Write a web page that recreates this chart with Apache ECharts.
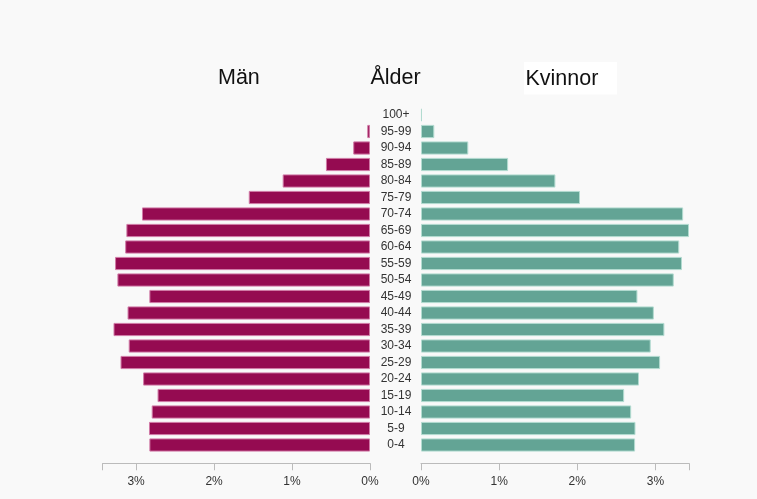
<!DOCTYPE html>
<html>
<head>
<meta charset="utf-8">
<script src="https://cdn.jsdelivr.net/npm/echarts@6/dist/echarts.min.js"></script>
<style>
html,body{margin:0;padding:0;background:#f9f9f9;}
#chart{width:757px;height:499px;}
</style>
</head>
<body>
<div id="chart"></div>
<script>
// bottom-to-top order (ECharts category axis starts at the bottom)
var ageGroups = ['0-4','5-9','10-14','15-19','20-24','25-29','30-34','35-39','40-44','45-49','50-54','55-59','60-64','65-69','70-74','75-79','80-84','85-89','90-94','95-99','100+'];
var men   = [2.83,2.835,2.80,2.725,2.91,3.20,3.095,3.29,3.11,2.83,3.24,3.27,3.14,3.125,2.925,1.555,1.12,0.565,0.215,0.035,0];
var women = [2.74,2.745,2.69,2.60,2.79,3.06,2.94,3.115,2.98,2.77,3.235,3.34,3.305,3.43,3.355,2.035,1.72,1.115,0.605,0.17,0.012];
var axisTicks = [0,1,2,3];
var axisMax = 3.43;

var FONT = 'Liberation Sans, Arial, sans-serif';
function toItems(arr) {
  return arr.map(function (v) {
    return v === 0 ? {value: v, itemStyle: {borderWidth: 0}} : v;
  });
}
var chart = echarts.init(document.getElementById('chart'));
var axisStyle = {
  type: 'value', min: 0, max: axisMax, offset: 10,
  splitLine: {show: false},
  axisLine: {show: true, lineStyle: {color: '#bbb', width: 1}},
  axisTick: {show: true, length: 7, lineStyle: {color: '#bbb'}, customValues: axisTicks.concat([axisMax])},
  axisLabel: {color: '#333', fontSize: 12, fontFamily: FONT, margin: 12,
              customValues: axisTicks, formatter: function(v){return v + '%';}}
};
var titleStyle = {fontSize: 21.5, fontWeight: 'normal', color: '#111', fontFamily: FONT};
chart.setOption({
  backgroundColor: '#f9f9f9',
  animation: false,
  title: [
    {text: 'Män', left: 218, top: 67.5, padding: 0, textStyle: titleStyle},
    {text: 'Ålder', left: 370.5, top: 67.5, padding: 0, textStyle: titleStyle},
    {text: 'Kvinnor', left: 524, top: 62, padding: [5.8, 18.6, 4.7, 1.5], backgroundColor: '#ffffff', textStyle: titleStyle}
  ],
  grid: [
    {left: 102.6, right: 387, top: 106.75, bottom: 45.75, containLabel: false},
    {left: 421, right: 68, top: 106.75, bottom: 45.75, containLabel: false}
  ],
  xAxis: [
    Object.assign({gridIndex: 0, inverse: true}, axisStyle),
    Object.assign({gridIndex: 1}, axisStyle)
  ],
  yAxis: [
    {gridIndex: 0, type: 'category', data: ageGroups, axisLine: {show: false}, axisTick: {show: false}, axisLabel: {show: false}},
    {gridIndex: 1, type: 'category', data: ageGroups, position: 'left', axisLine: {show: false}, axisTick: {show: false},
     axisLabel: {show: true, align: 'center', margin: 25, color: '#333', fontSize: 12, fontFamily: FONT, interval: 0}}
  ],
  series: [
    {name: 'Män', type: 'bar', xAxisIndex: 0, yAxisIndex: 0, data: toItems(men), barCategoryGap: '20%',
     itemStyle: {color: '#950b51', borderColor: '#d07aa6', borderWidth: 1}},
    {name: 'Kvinnor', type: 'bar', xAxisIndex: 1, yAxisIndex: 1, data: toItems(women), barCategoryGap: '20%',
     itemStyle: {color: '#63a495', borderColor: '#b2dbd0', borderWidth: 1}}
  ]
});
</script>
</body>
</html>
